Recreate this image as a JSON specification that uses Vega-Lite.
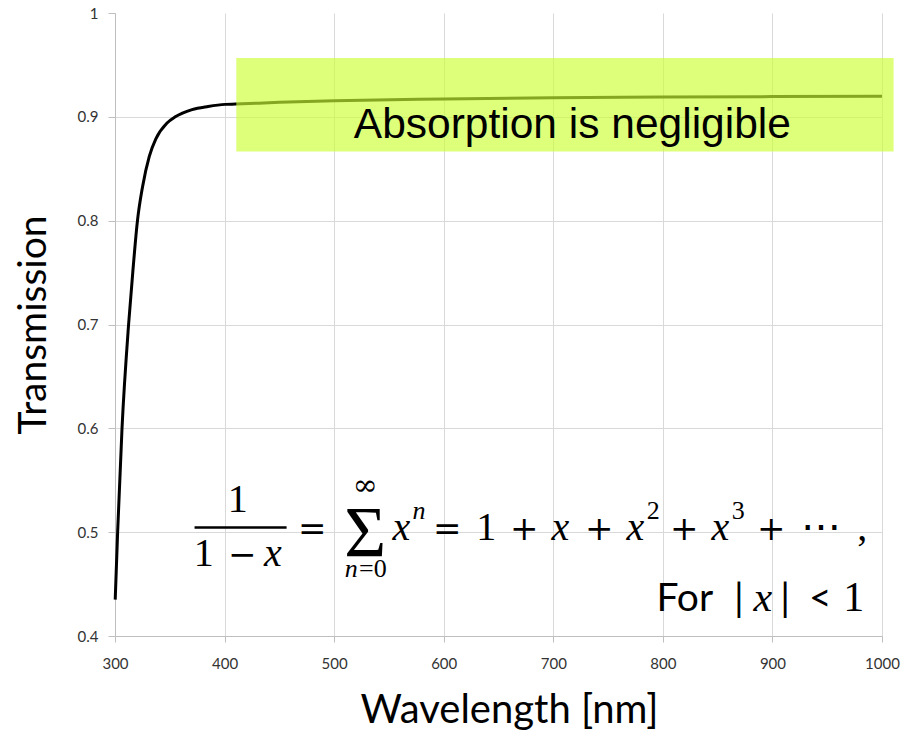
{
  "$schema": "https://vega.github.io/schema/vega-lite/v6.json",
  "width": 767,
  "height": 623,
  "autosize": {"type": "none"},
  "padding": {"left": 115, "top": 13, "right": 31, "bottom": 98},
  "background": "white",
  "config": {"view": {"stroke": null}},
  "datasets": {
    "curve": [
      {"wavelength": 300.2, "transmission": 0.435},
      {"wavelength": 302.4, "transmission": 0.5},
      {"wavelength": 306.4, "transmission": 0.6},
      {"wavelength": 312.4, "transmission": 0.7},
      {"wavelength": 316.2, "transmission": 0.75},
      {"wavelength": 320.5, "transmission": 0.8},
      {"wavelength": 325.2, "transmission": 0.833},
      {"wavelength": 331.3, "transmission": 0.862},
      {"wavelength": 337.4, "transmission": 0.879},
      {"wavelength": 347.5, "transmission": 0.894},
      {"wavelength": 355, "transmission": 0.9},
      {"wavelength": 370.3, "transmission": 0.907},
      {"wavelength": 385, "transmission": 0.910},
      {"wavelength": 400.7, "transmission": 0.912},
      {"wavelength": 410, "transmission": 0.9123},
      {"wavelength": 450, "transmission": 0.914},
      {"wavelength": 500, "transmission": 0.9155},
      {"wavelength": 600, "transmission": 0.9172},
      {"wavelength": 700, "transmission": 0.9183},
      {"wavelength": 800, "transmission": 0.919},
      {"wavelength": 900, "transmission": 0.9195},
      {"wavelength": 1000, "transmission": 0.9198}
    ],
    "box": [{"wavelength": 410.7, "wavelength2": 1010.6, "transmission": 0.8667, "transmission2": 0.9566}],
    "boxLabel": [{"label": "Absorption is negligible", "wavelength": 717.4, "transmission": 0.8795}],
    "fracBar": [{"wavelength": 372.6, "wavelength2": 456.6, "transmission": 0.5044}],
    "eqRoman": [
      {"label": "1", "wavelength": 412.07, "transmission": 0.51956},
      {"label": "1", "wavelength": 381.0, "transmission": 0.46754},
      {"label": "1", "wavelength": 638.86, "transmission": 0.49258},
      {"label": "⋯", "wavelength": 944.61, "transmission": 0.49258},
      {"label": ",", "wavelength": 982.03, "transmission": 0.49258}
    ],
    "eqOps": [
      {"label": "−", "wavelength": 416.2, "transmission": 0.46754},
      {"label": "=", "wavelength": 480.07, "transmission": 0.49258},
      {"label": "=", "wavelength": 603.27, "transmission": 0.49258},
      {"label": "+", "wavelength": 673.54, "transmission": 0.49258},
      {"label": "+", "wavelength": 741.99, "transmission": 0.49258},
      {"label": "+", "wavelength": 819.57, "transmission": 0.49258},
      {"label": "+", "wavelength": 898.98, "transmission": 0.49258}
    ],
    "eqItalic": [
      {"label": "x", "wavelength": 444.0, "transmission": 0.46754},
      {"label": "x", "wavelength": 561.29, "transmission": 0.49258},
      {"label": "x", "wavelength": 706.4, "transmission": 0.49258},
      {"label": "x", "wavelength": 774.85, "transmission": 0.49258},
      {"label": "x", "wavelength": 852.43, "transmission": 0.49258}
    ],
    "eqSigma": [{"label": "Σ", "wavelength": 528.44, "transmission": 0.47736}],
    "eqInfinity": [{"label": "∞", "wavelength": 528.44, "transmission": 0.5359}],
    "eqSmallRoman": [
      {"label": "=0", "wavelength": 535.3, "transmission": 0.45694},
      {"label": "2", "wavelength": 791.27, "transmission": 0.5128},
      {"label": "3", "wavelength": 868.86, "transmission": 0.5128}
    ],
    "eqSmallItalic": [
      {"label": "n", "wavelength": 515.7, "transmission": 0.45694},
      {"label": "n", "wavelength": 577.5, "transmission": 0.5128}
    ],
    "condSans": [
      {"label": "For", "wavelength": 820.0, "transmission": 0.42399},
      {"label": "|", "wavelength": 869.3, "transmission": 0.42399},
      {"label": "|", "wavelength": 911.7, "transmission": 0.42399},
      {"label": "<", "wavelength": 943.7, "transmission": 0.42399}
    ],
    "condItalic": [{"label": "x", "wavelength": 891.2, "transmission": 0.42399}],
    "condRoman": [{"label": "1", "wavelength": 974.3, "transmission": 0.42399}]
  },
  "encoding": {
    "x": {
      "field": "wavelength",
      "type": "quantitative",
      "scale": {"domain": [300, 1000], "nice": false, "zero": false},
      "axis": {
        "title": "Wavelength [nm]",
        "values": [300, 400, 500, 600, 700, 800, 900, 1000],
        "format": "d",
        "labelFlush": false,
        "titleFont": "Lato",
        "titleFontSize": 40,
        "titleFontWeight": "normal",
        "titleColor": "#000000",
        "titlePadding": 19,
        "titleX": 394,
        "labelFont": "Lato",
        "labelFontSize": 15,
        "labelColor": "#333333",
        "labelPadding": 14,
        "tickSize": 6,
        "tickColor": "#bfbfbf",
        "domainColor": "#bfbfbf",
        "gridColor": "#d9d9d9",
        "grid": true
      }
    },
    "y": {
      "field": "transmission",
      "type": "quantitative",
      "scale": {"domain": [0.4, 1], "nice": false, "zero": false},
      "axis": {
        "title": "Transmission",
        "values": [0.4, 0.5, 0.6, 0.7, 0.8, 0.9, 1],
        "labelExpr": "format(datum.value, '.1~f')",
        "labelFlush": false,
        "titleFont": "Lato",
        "titleFontSize": 39,
        "titleFontWeight": "normal",
        "titleColor": "#000000",
        "titlePadding": 24,
        "labelFont": "Lato",
        "labelFontSize": 15,
        "labelColor": "#333333",
        "labelPadding": 10,
        "tickSize": 7,
        "tickColor": "#bfbfbf",
        "domainColor": "#bfbfbf",
        "gridColor": "#d9d9d9",
        "gridOpacity": {"condition": {"test": "datum.value >= 1", "value": 0}, "value": 1},
        "grid": true
      }
    }
  },
  "layer": [
    {
      "data": {"name": "curve"},
      "mark": {"type": "line", "color": "#000000", "strokeWidth": 3, "interpolate": "monotone"}
    },
    {
      "data": {"name": "box"},
      "mark": {"type": "rect", "fill": "#ccff33", "opacity": 0.65},
      "encoding": {"x2": {"field": "wavelength2"}, "y2": {"field": "transmission2"}}
    },
    {
      "data": {"name": "boxLabel"},
      "mark": {"type": "text", "font": "Liberation Sans", "fontSize": 42.5, "color": "#000000", "align": "center", "baseline": "alphabetic"},
      "encoding": {"text": {"field": "label"}}
    },
    {
      "data": {"name": "fracBar"},
      "mark": {"type": "rule", "color": "#000000", "strokeWidth": 2.5},
      "encoding": {"x2": {"field": "wavelength2"}}
    },
    {
      "data": {"name": "eqRoman"},
      "mark": {"type": "text", "font": "Liberation Serif", "fontSize": 40, "color": "#000000", "align": "center", "baseline": "alphabetic"},
      "encoding": {"text": {"field": "label"}}
    },
    {
      "data": {"name": "eqOps"},
      "mark": {"type": "text", "font": "DejaVu Serif", "fontSize": 34, "color": "#000000", "align": "center", "baseline": "alphabetic"},
      "encoding": {"text": {"field": "label"}}
    },
    {
      "data": {"name": "eqItalic"},
      "mark": {"type": "text", "font": "Liberation Serif", "fontStyle": "italic", "fontSize": 40, "color": "#000000", "align": "center", "baseline": "alphabetic"},
      "encoding": {"text": {"field": "label"}}
    },
    {
      "data": {"name": "eqSigma"},
      "mark": {"type": "text", "font": "Liberation Serif", "fontSize": 72, "color": "#000000", "align": "center", "baseline": "alphabetic"},
      "encoding": {"text": {"field": "label"}}
    },
    {
      "data": {"name": "eqInfinity"},
      "mark": {"type": "text", "font": "DejaVu Serif", "fontSize": 30, "color": "#000000", "align": "center", "baseline": "alphabetic"},
      "encoding": {"text": {"field": "label"}}
    },
    {
      "data": {"name": "eqSmallRoman"},
      "mark": {"type": "text", "font": "Liberation Serif", "fontSize": 26, "color": "#000000", "align": "center", "baseline": "alphabetic"},
      "encoding": {"text": {"field": "label"}}
    },
    {
      "data": {"name": "eqSmallItalic"},
      "mark": {"type": "text", "font": "Liberation Serif", "fontStyle": "italic", "fontSize": 26, "color": "#000000", "align": "center", "baseline": "alphabetic"},
      "encoding": {"text": {"field": "label"}}
    },
    {
      "data": {"name": "condSans"},
      "mark": {"type": "text", "font": "Lato", "fontSize": 39, "color": "#000000", "align": "center", "baseline": "alphabetic"},
      "encoding": {"text": {"field": "label"}}
    },
    {
      "data": {"name": "condItalic"},
      "mark": {"type": "text", "font": "Liberation Serif", "fontStyle": "italic", "fontSize": 42, "color": "#000000", "align": "center", "baseline": "alphabetic"},
      "encoding": {"text": {"field": "label"}}
    },
    {
      "data": {"name": "condRoman"},
      "mark": {"type": "text", "font": "Liberation Serif", "fontSize": 42, "color": "#000000", "align": "center", "baseline": "alphabetic"},
      "encoding": {"text": {"field": "label"}}
    }
  ]
}
